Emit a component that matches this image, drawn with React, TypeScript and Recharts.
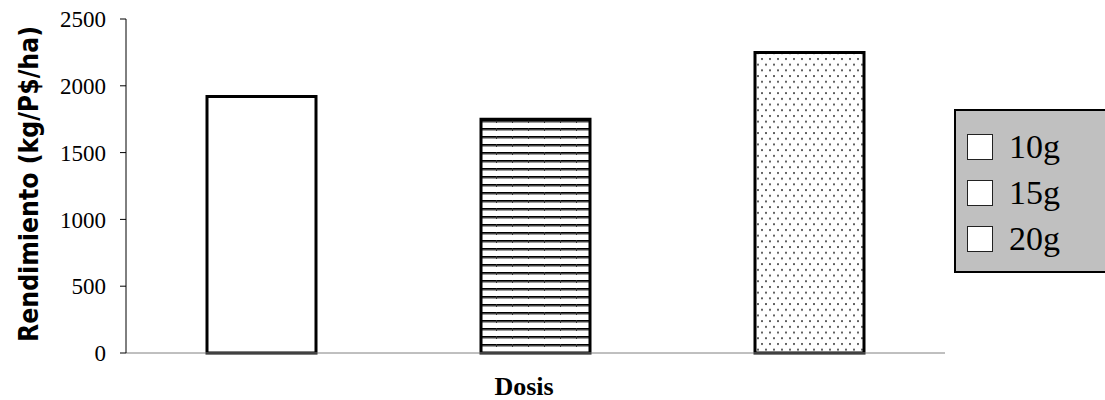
import { BarChart, Bar, XAxis, YAxis, Legend } from "recharts";

const categories = ["Dosis"];
const seriesNames = ["10g", "15g", "20g"];
const seriesValues = [1920, 1750, 2250];
const yTicks = [0, 500, 1000, 1500, 2000, 2500];

const data = categories.map((name) => {
  const row: Record<string, string | number> = { name };
  seriesNames.forEach((s, i) => {
    row[s] = seriesValues[i];
  });
  return row;
});

const fills = ["#ffffff", "url(#hlines)", "url(#dots)"];
const serif = "'Liberation Serif', 'Times New Roman', serif";

function YLabel() {
  return (
    <text
      x={38}
      y={184}
      transform="rotate(-90, 38, 184)"
      textAnchor="middle"
      textLength={316}
      lengthAdjust="spacingAndGlyphs"
      style={{ fontFamily: "'DejaVu Sans', 'Liberation Sans', sans-serif", fontWeight: 900, fontSize: 26 }}
      fill="#000"
    >
      Rendimiento (kg/P$/ha)
    </text>
  );
}

function XLabel() {
  return (
    <text
      x={524}
      y={395}
      textAnchor="middle"
      style={{ fontFamily: serif, fontWeight: "bold", fontSize: 26 }}
      fill="#000"
    >
      Dosis
    </text>
  );
}

function LegendBox(props: any) {
  const items = props.payload || [];
  return (
    <div
      style={{
        width: 170,
        height: 164,
        background: "#c0c0c0",
        border: "2px solid #000",
        boxSizing: "border-box",
        paddingTop: 13,
        paddingLeft: 11,
      }}
    >
      {items.map((it: any) => (
        <div key={it.value} style={{ display: "flex", alignItems: "center", height: 46 }}>
          <div
            style={{
              width: 26,
              height: 26,
              background: "#fff",
              border: "1.5px solid #222",
              boxSizing: "border-box",
              marginRight: 16,
            }}
          />
          <span style={{ fontFamily: serif, fontSize: 34, color: "#000", lineHeight: "46px" }}>
            {it.value}
          </span>
        </div>
      ))}
    </div>
  );
}

export default function App() {
  return (
    <div
      style={{
        position: "absolute",
        left: 0,
        top: 0,
        width: 1105,
        height: 400,
        overflow: "hidden",
        background: "#fff",
      }}
    >
      <BarChart
        width={1105}
        height={400}
        data={data}
        margin={{ top: 19, right: 160, left: 0, bottom: 0 }}
        barSize={109}
        barGap={165}
      >
        <defs>
          <pattern id="hlines" width="16" height="8" patternUnits="userSpaceOnUse">
            <rect x="0" y="0" width="16" height="8" fill="#fff" />
            <rect x="0" y="0" width="16" height="1.8" fill="#000" />
            <rect x="0" y="1.8" width="16" height="1" fill="#888" />
            <rect x="0" y="0" width="1" height="3" fill="#333" />
          </pattern>
          <pattern id="dots" width="8" height="11.4" patternUnits="userSpaceOnUse">
            <rect x="0" y="0" width="8" height="11.4" fill="#fff" />
            <circle cx="2" cy="2" r="1" fill="#333" />
            <circle cx="6" cy="7.7" r="1" fill="#333" />
          </pattern>
        </defs>
        <XAxis
          dataKey="name"
          height={47}
          tick={false}
          tickLine={false}
          axisLine={{ stroke: "#808080" }}
          label={<XLabel />}
        />
        <XAxis
          xAxisId="top"
          dataKey="name"
          orientation="top"
          height={0}
          tick={false}
          tickLine={false}
          axisLine={{ stroke: "#808080" }}
        />
        <YAxis
          width={126}
          domain={[0, 2500]}
          ticks={yTicks}
          interval={0}
          tickSize={6}
          tickMargin={14}
          axisLine={{ stroke: "#000" }}
          tickLine={{ stroke: "#000" }}
          tick={{ fill: "#000", fontFamily: serif, fontSize: 23 }}
          label={<YLabel />}
        />
        <YAxis
          yAxisId="right"
          orientation="right"
          width={0}
          domain={[0, 2500]}
          tick={false}
          tickLine={false}
          axisLine={{ stroke: "#808080" }}
        />
        <Legend
          layout="vertical"
          align="center"
          verticalAlign="middle"
          content={<LegendBox />}
          wrapperStyle={{ left: 954, top: 109, width: 170, height: 164 }}
        />
        {seriesNames.map((s, i) => (
          <Bar
            key={s}
            dataKey={s}
            name={s}
            fill={fills[i]}
            stroke="#000"
            strokeWidth={3}
            isAnimationActive={false}
          />
        ))}
      </BarChart>
    </div>
  );
}
